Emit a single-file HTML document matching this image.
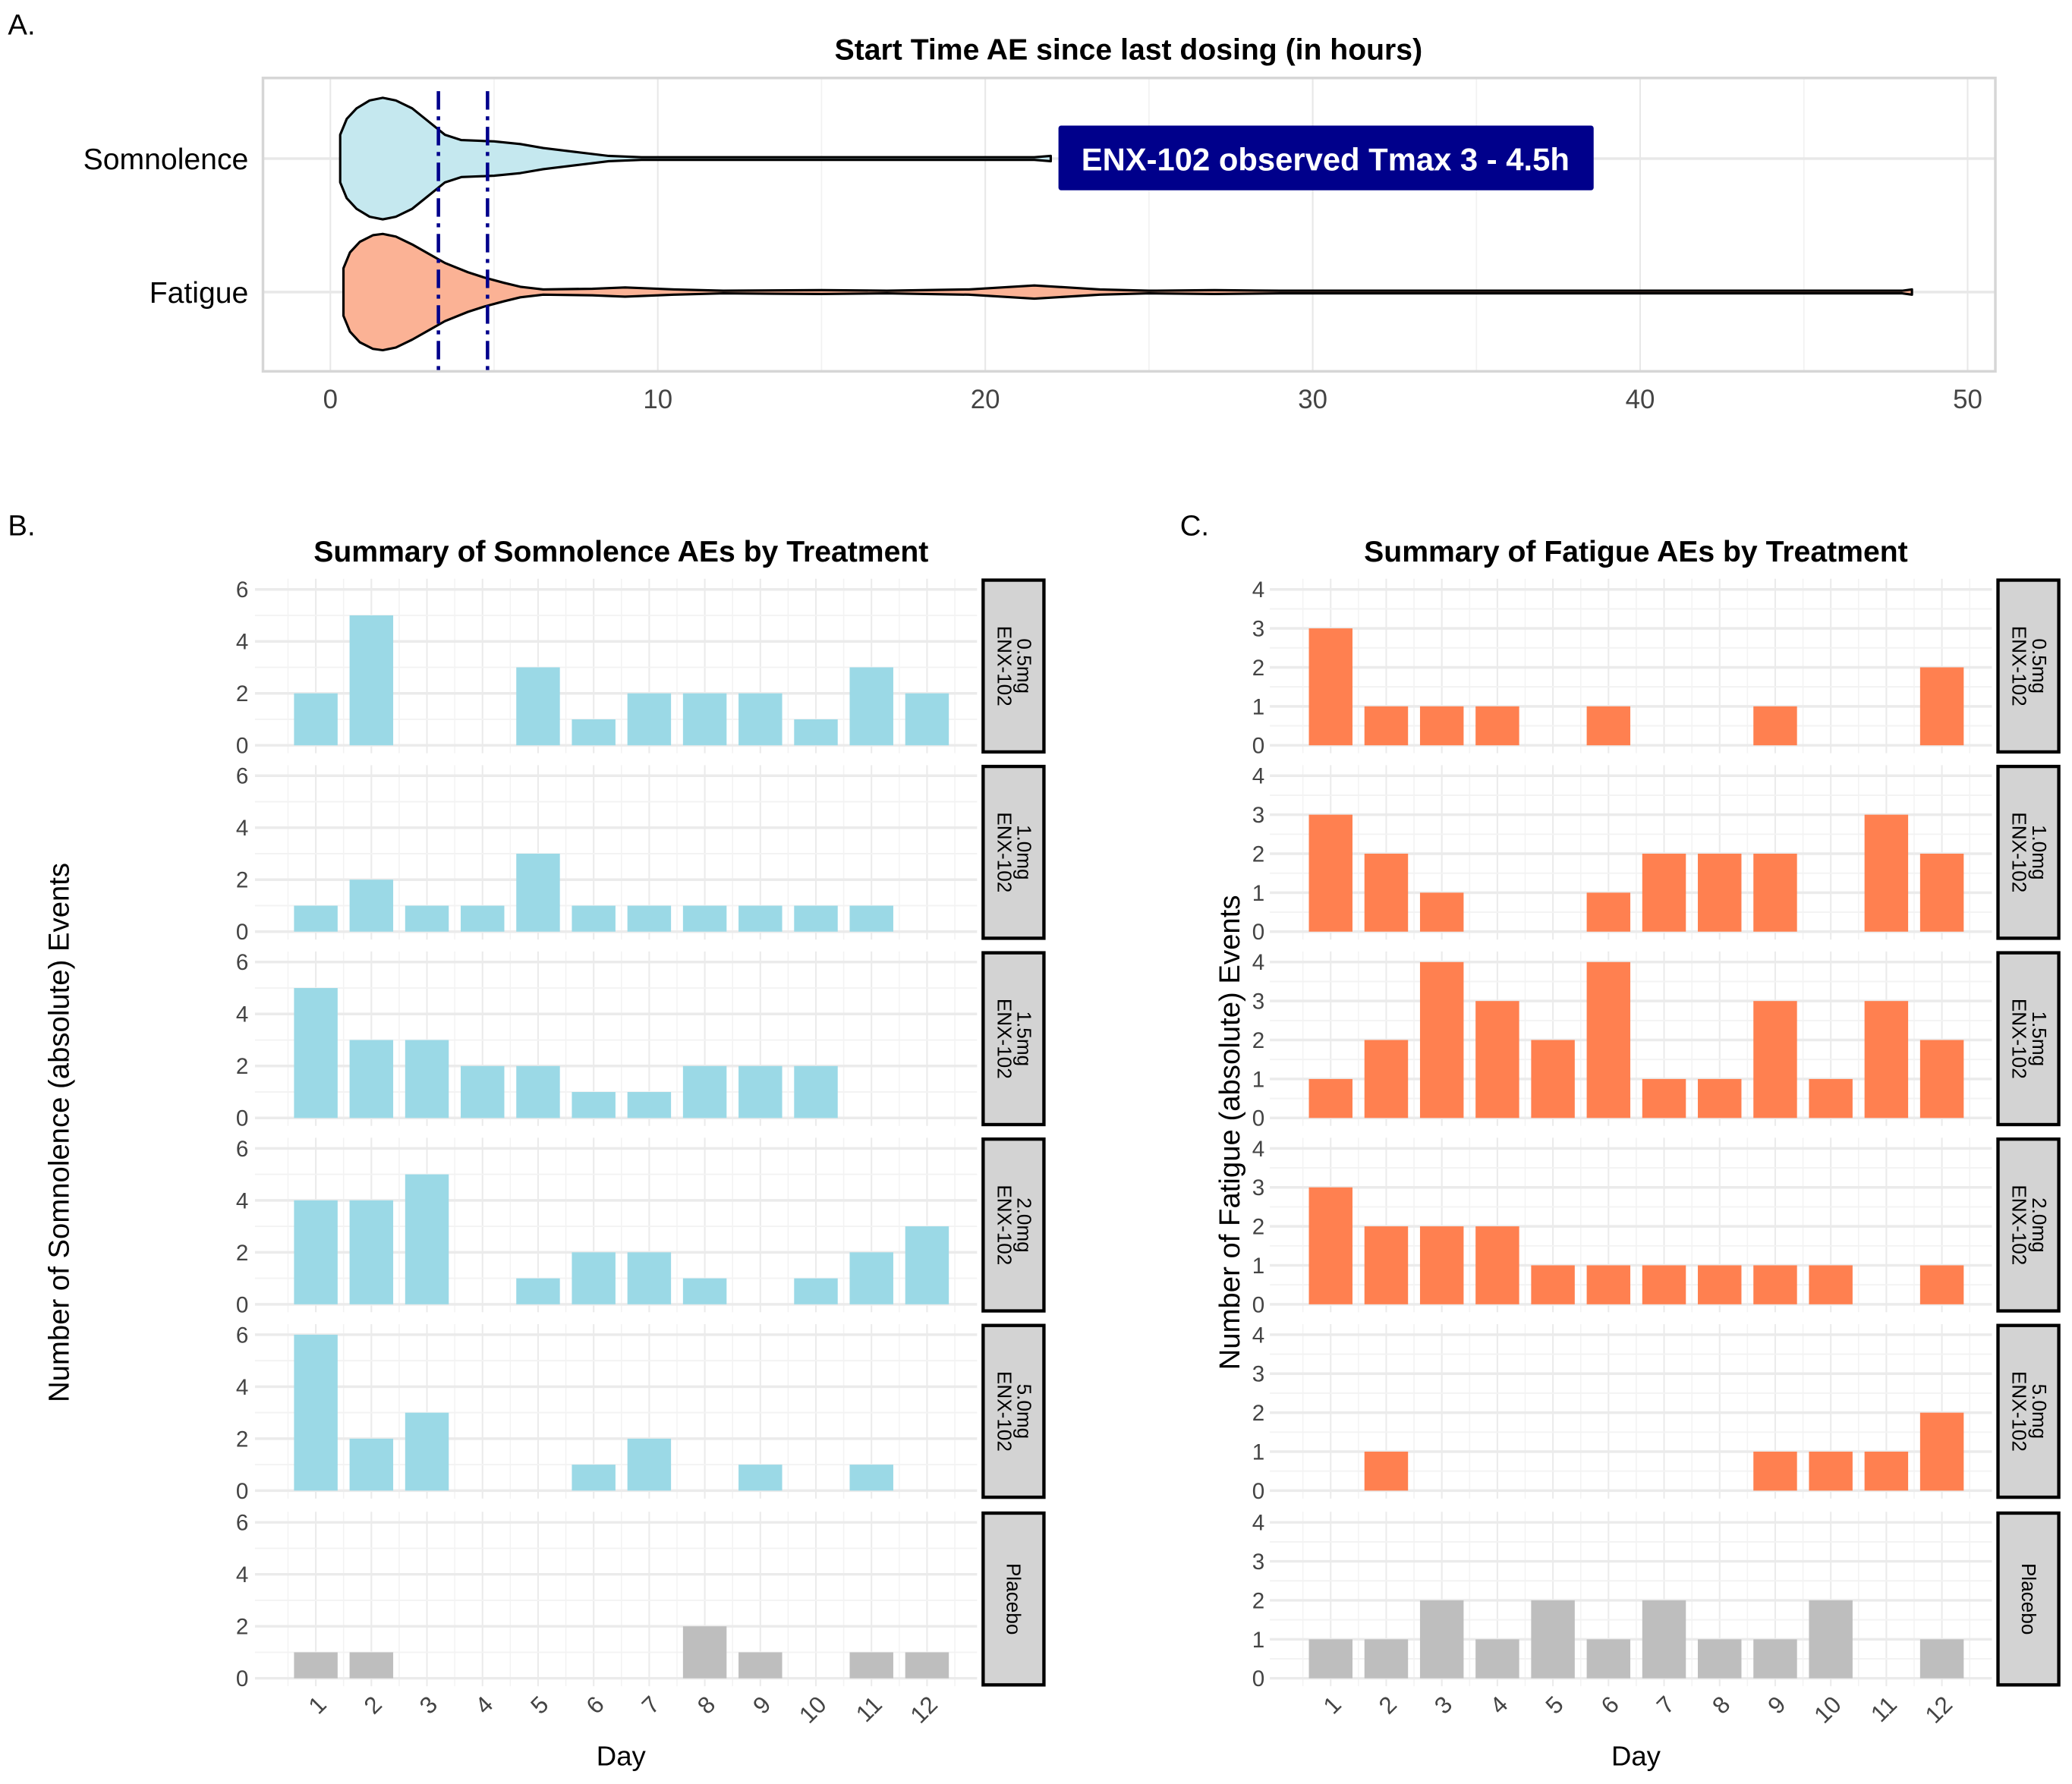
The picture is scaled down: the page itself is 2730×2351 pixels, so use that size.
<!DOCTYPE html>
<html><head><meta charset="utf-8"><style>
html,body{margin:0;padding:0;background:#fff}
svg{display:block}
text{font-family:"Liberation Sans",Arial,sans-serif}
</style></head><body>
<svg id="fig" xmlns="http://www.w3.org/2000/svg" width="2730" height="2351" viewBox="0 0 1568 1350" preserveAspectRatio="none">
<rect width="1568" height="1350" fill="#fff"/>
<g id="panelA"></g>
<g id="panelB"></g>
<g id="panelC"></g>
</svg>
<script>
// ---- Panel A data ----
const violinCategories = ["Somnolence", "Fatigue"];
const xTicksA = [0, 10, 20, 30, 40, 50];
const tmaxLines = [3.3, 4.8];
const somnolenceHours = [0.3, 0.3, 0.5, 0.8, 1.2, 1.6, 2.0, 2.5, 3.0, 3.5, 4.0, 5.0, 5.8, 6.5, 7.5, 8.5, 9.5, 21.5, 22];
const somnolenceDensity = [0, 18, 30, 38, 44, 46, 44, 38, 28, 18, 14, 13, 11, 8, 5, 2, 1, 1, 2];
const fatigueHours = [0.4, 0.4, 0.6, 0.9, 1.3, 1.6, 2.0, 2.5, 3.0, 3.5, 4.2, 4.7, 5.3, 5.8, 6.5, 8, 9, 10.5, 12, 15, 17, 19.5, 21.5, 23.5, 25, 27, 29, 48, 48.3];
const fatigueDensity = [0, 18, 30, 38, 43, 44, 42, 36, 29, 22, 15, 11, 7, 4, 2, 2.5, 3.5, 2, 1, 1.5, 1, 2, 5, 2, 1, 1.5, 1, 1, 2];

// ---- Panels B/C data ----
const days = [1,2,3,4,5,6,7,8,9,10,11,12];
const treatments = ["0.5mg|ENX-102","1.0mg|ENX-102","1.5mg|ENX-102","2.0mg|ENX-102","5.0mg|ENX-102","Placebo"];
const somn05 = [2,5,0,0,3,1,2,2,2,1,3,2];
const somn10 = [1,2,1,1,3,1,1,1,1,1,1,0];
const somn15 = [5,3,3,2,2,1,1,2,2,2,0,0];
const somn20 = [4,4,5,0,1,2,2,1,0,1,2,3];
const somn50 = [6,2,3,0,0,1,2,0,1,0,1,0];
const somnPlacebo = [1,1,0,0,0,0,0,2,1,0,1,1];
const fat05 = [3,1,1,1,0,1,0,0,1,0,0,2];
const fat10 = [3,2,1,0,0,1,2,2,2,0,3,2];
const fat15 = [1,2,4,3,2,4,1,1,3,1,3,2];
const fat20 = [3,2,2,2,1,1,1,1,1,1,0,1];
const fat50 = [0,1,0,0,0,0,0,0,1,1,1,2];
const fatPlacebo = [1,1,2,1,2,1,2,1,1,2,0,1];
const somnTicks = [0,2,4,6];
const fatTicks = [0,1,2,3,4];

const NS = "http://www.w3.org/2000/svg";
function mk(parent, tag, attrs, txt){
  const e = document.createElementNS(NS, tag);
  for (const k in attrs) e.setAttribute(k, attrs[k]);
  if (txt !== undefined) e.textContent = txt;
  parent.appendChild(e);
  return e;
}

// ---------- Panel A ----------
(function(){
  const g = document.getElementById('panelA');
  const xA = v => 250 + v * 24.78;
  const catY = [120, 221];
  let t = mk(g,'text',{x:6,y:26,'font-size':22});
  t.textContent = 'A.';
  
  
  t = mk(g,'text',{x:854,y:45,'font-size':22.5,'font-weight':'bold','text-anchor':'middle'});
  t.textContent = 'Start Time AE since last dosing (in hours)';
  
  
  for (let v = 5; v <= 55; v += 10) {
    if (xA(v) < 1510) mk(g,'line',{x1:xA(v),x2:xA(v),y1:59,y2:281,stroke:'#f2f2f2','stroke-width':1});
  }
  xTicksA.forEach(v => {
    mk(g,'line',{x1:xA(v),x2:xA(v),y1:59,y2:281,stroke:'#e8e8e8','stroke-width':1.2});
    const tt = mk(g,'text',{x:xA(v),y:309,'font-size':20,'text-anchor':'middle',fill:'#444'});
    tt.textContent = v;
    
    
  });
  catY.forEach(y => mk(g,'line',{x1:199,x2:1510,y1:y,y2:y,stroke:'#e8e8e8','stroke-width':2}));
  const frame = mk(g,'rect',{x:199,y:59,width:1311,height:222,fill:'none',stroke:'#d6d6d6','stroke-width':2});
  
  
  violinCategories.forEach((c,i) => {
    const tt = mk(g,'text',{x:188,y:catY[i]+8,'font-size':22.5,'text-anchor':'end'});
    tt.textContent = c;
    
    
  });
  function violin(hours, dens, y, fill, name){
    let top = [], bot = [];
    hours.forEach((h,i) => { top.push(xA(h)+','+(y-dens[i])); bot.unshift(xA(h)+','+(y+dens[i])); });
    const p = mk(g,'polygon',{points:top.concat(bot).join(' '),fill:fill,stroke:'#000','stroke-width':1.8,'stroke-linejoin':'round'});
    
    
  }
  violin(somnolenceHours, somnolenceDensity, catY[0], '#c5e8ef', 'somnolence-violin');
  violin(fatigueHours, fatigueDensity, catY[1], '#fbb295', 'fatigue-violin');
  tmaxLines.forEach(v => {
    const l = mk(g,'line',{x1:xA(v),x2:xA(v),y1:69,y2:281,stroke:'#00008b','stroke-width':2.6,'stroke-dasharray':'14 5 3 5'});
    
    
  });
  const box = mk(g,'rect',{x:801,y:95,width:405,height:49,fill:'#00008b',rx:2});
  
  
  t = mk(g,'text',{x:1003,y:129,'font-size':24,'font-weight':'bold',fill:'#fff','text-anchor':'middle'});
  t.textContent = 'ENX-102 observed Tmax 3 - 4.5h';
  
  
})();

// ---------- Faceted bar panels ----------
const zeroYs = [564, 705, 846, 987, 1128, 1270];
function facetPanel(gid, opt){
  const g = document.getElementById(gid);
  const x0 = opt.x1day, dx = 42.05;
  const xD = d => x0 + (d-1)*dx;
  const left = xD(1) - dx*1.0 - 4, right = xD(12) + dx*0.9;
  let t = mk(g,'text',{x:opt.labX,y:405,'font-size':22});
  t.textContent = opt.letter;
  
  
  t = mk(g,'text',{x:opt.cx,y:425,'font-size':22.5,'font-weight':'bold','text-anchor':'middle'});
  t.textContent = opt.title;
  
  
  const perUnit = 118 / opt.max;
  opt.series.forEach((vals, fi) => {
    const z = zeroYs[fi];
    const yS = v => z - v*perUnit;
    const fg = mk(g,'g',{});
    
    
    for (let d = 0.5; d <= 12.5; d += 0.5) {
      const major = Number.isInteger(d);
      mk(fg,'line',{x1:xD(d),x2:xD(d),y1:yS(opt.max)-8,y2:z+6,stroke:major?'#ebebeb':'#f3f3f3','stroke-width':major?1.2:0.9});
    }
    for (let v = 0; v <= opt.max; v += opt.minorStep) {
      const major = opt.ticks.indexOf(v) >= 0;
      mk(fg,'line',{x1:left,x2:right,y1:yS(v),y2:yS(v),stroke:major?'#ebebeb':'#f3f3f3','stroke-width':major?2:1.1});
    }
    opt.ticks.forEach(v => {
      const tt = mk(fg,'text',{x:opt.tickX,y:yS(v)+6,'font-size':17,'text-anchor':'end',fill:'#444'});
      tt.textContent = v;
      
      
    });
    const color = fi === 5 ? '#bebebe' : opt.color;
    vals.forEach((v, i) => {
      if (v <= 0) return;
      const r = mk(fg,'rect',{x:xD(days[i])-16.5,y:yS(v),width:33,height:v*perUnit,fill:color});
      
      
    });
    const st = mk(fg,'rect',{x:opt.stripX,y:z-125,width:46,height:130,fill:'#d3d3d3',stroke:'#000','stroke-width':2.5});
    
    
    const lines = treatments[fi].split('|');
    const cxS = opt.stripX + 23, cyS = z - 60;
    const tg = mk(fg,'text',{'font-size':15,'text-anchor':'middle',transform:'translate('+cxS+','+cyS+') rotate(90)'});
    
    
    if (lines.length === 2) {
      mk(tg,'tspan',{x:0,y:-3}, lines[0]);
      mk(tg,'tspan',{x:0,y:12}, lines[1]);
    } else {
      mk(tg,'tspan',{x:0,y:5}, lines[0]);
    }
  });
  days.forEach(d => {
    const tt = mk(g,'text',{'font-size':18,'text-anchor':'end',fill:'#444',transform:'translate('+(xD(d)+9)+',1291) rotate(-45)'});
    tt.textContent = d;
    
    
  });
  t = mk(g,'text',{x:opt.cx,y:1336,'font-size':21,'text-anchor':'middle'});
  t.textContent = 'Day';
  
  
  t = mk(g,'text',{'font-size':22,'text-anchor':'middle',transform:'translate('+opt.yTitleX+',857) rotate(-90)'});
  t.textContent = opt.yTitle;
  
  
}
facetPanel('panelB', {letter:'B.', labX:6, title:'Summary of Somnolence AEs by Treatment', cx:470,
  x1day:239, stripX:744, tickX:188, max:6, ticks:somnTicks, minorStep:1, color:'#9bd9e6',
  series:[somn05,somn10,somn15,somn20,somn50,somnPlacebo], yTitleX:52, yTitle:'Number of Somnolence (absolute) Events'});
facetPanel('panelC', {letter:'C.', labX:893, title:'Summary of Fatigue AEs by Treatment', cx:1238,
  x1day:1007, stripX:1512, tickX:957, max:4, ticks:fatTicks, minorStep:0.5, color:'#ff8050',
  series:[fat05,fat10,fat15,fat20,fat50,fatPlacebo], yTitleX:938, yTitle:'Number of Fatigue (absolute) Events'});
</script>
</body></html>
